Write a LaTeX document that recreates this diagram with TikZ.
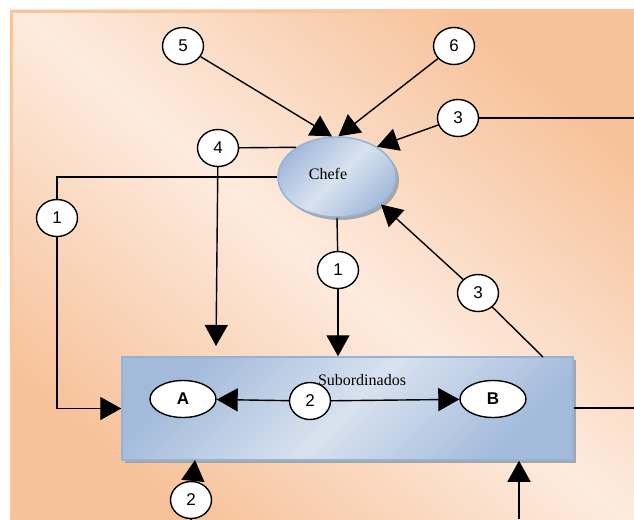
\documentclass[tikz,border=0pt]{standalone}
\usepackage{fontspec}
\setmainfont{Liberation Serif}
\newfontfamily\arialfont{Liberation Sans}
\usetikzlibrary{arrows.meta,shapes.geometric}
\definecolor{peachdark}{HTML}{F7C29A}
\definecolor{peachlight}{HTML}{FDEBDF}
\definecolor{peachline}{HTML}{FAC59A}
\definecolor{bluedark}{HTML}{A3BADB}
\definecolor{bluelight}{HTML}{D8E2EF}
\definecolor{blueline}{HTML}{95B3D7}
\tikzset{
  num/.style={ellipse, draw, line width=1.4pt, fill=white, inner sep=0pt,
    minimum width=41pt, minimum height=37pt, font=\arialfont\fontsize{17}{17}\selectfont},
  sub/.style={ellipse, draw, line width=1.4pt, fill=white, inner sep=0pt,
    minimum width=66pt, minimum height=37pt, font=\arialfont\bfseries\fontsize{17}{17}\selectfont},
  bluefill/.style={shading=axis, top color=bluedark, bottom color=bluedark,
    middle color=bluelight, shading angle=45},
  con/.style={line width=1.4pt},
  arr/.style={con, -{Triangle[length=21pt,width=23pt]}}
}
\begin{document}
\begin{tikzpicture}[x=1pt,y=-1pt]
  \useasboundingbox (0,0) rectangle (634,519);
  \fill[white] (0,0) rectangle (634,519);
  \shade[shading=axis, top color=peachdark, bottom color=peachdark,
    middle color=peachlight, shading angle=-40] (10,10) rectangle (634,519);
  \draw[peachline, line width=3pt] (11.5,519) -- (11.5,11.5) -- (634,11.5);

  % boss and team
  \fill[gray!70] (340,180) ellipse (59pt and 40pt);
  \node[ellipse, bluefill, draw=blueline, line width=1.5pt, minimum width=118pt,
    minimum height=80pt] (chefe) at (337,177) {};
  \node[font=\fontsize{16}{16}\selectfont] (chefetxt) at (328,174) {Chefe};
  \fill[gray!70] (125,360) rectangle (576,463);
  \node[rectangle, bluefill, draw=blueline, line width=1.5pt, minimum width=451pt,
    minimum height=103pt] (team) at (347.5,408.5) {};
  \node[font=\fontsize{16}{16}\selectfont] (teamtxt) at (362,380) {Subordinados};
  \node[sub] (A) at (183,399) {A};
  \node[sub] (B) at (493,399) {B};

  % numbered steps
  \foreach \n/\xy/\t in {c5/{(183,46)}/5, c6/{(454,46)}/6, c3t/{(458,118)}/3,
      c4/{(218,148)}/4, c1l/{(57,218)}/1, c1m/{(338,270)}/1,
      c3b/{(478,293)}/3, c2m/{(310,401)}/2, c2b/{(191,500)}/2}
    \node[num] (\n) at \xy {\t};

  \coordinate (e3) at (634,118);
  \coordinate (e4) at (634,408);
  \coordinate (p3) at (543,357);
  \coordinate (a4) at (216,346);
  \coordinate (b1) at (519,519);

  \draw[arr] (c5) -- (chefe.97);
  \draw[arr] (c6) -- (chefe.88);
  \draw[con] (e3) -- (c3t);
  \draw[arr] (c3t) -- (chefe.37);
  \draw[con] (chefe.144.5) -- (c4);
  \draw[arr] (c4) -- (a4);
  \draw[con] (chefe.west) -| (c1l);
  \draw[arr] (c1l) |- (team.west);
  \draw[con] (chefe.south) -- (c1m);
  \draw[arr] (c1m) -- (c1m |- team.north);
  \draw[con] (p3) -- (c3b);
  \draw[arr] (c3b) -- (chefe.-32);
  \draw[arr] (c2m) -- (A);
  \draw[arr] (c2m) -- (B);
  \draw[con] (team.east |- e4) -- (e4);
  \draw[arr] (b1) -- (b1 |- team.south);
  \draw[arr] (c2b) -- (195,460);
  \draw[con] (c2b) -- (c2b |- b1);
\end{tikzpicture}
\end{document}
